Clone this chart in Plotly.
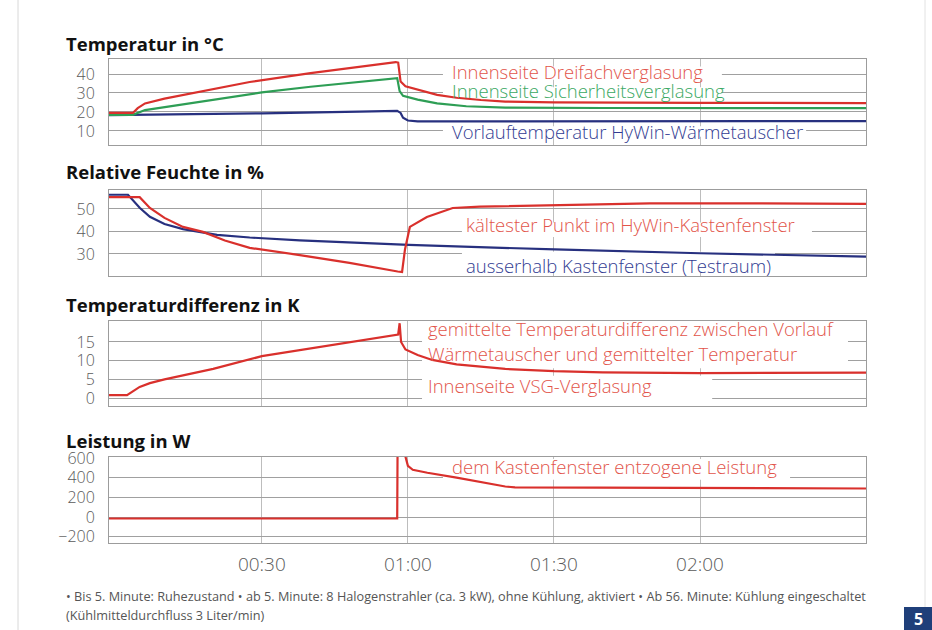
import plotly.graph_objects as go

# ---------------- data (time in minutes) ----------------
t_dreifach = [-1.4, 3.5, 4.5, 6, 10, 20, 27.5, 40, 50, 57.5, 58, 58.5, 59.5, 63, 66, 70, 75, 80, 90, 120, 154.1]
v_dreifach = [19.5, 19.5, 22, 24.5, 27, 32, 35.8, 40.5, 44, 46.3, 46, 36, 33.5, 31, 29, 27.5, 26.3, 25.5, 25, 24.8, 24.7]

t_sicher = [-1.4, 3.5, 6, 10, 20, 30, 40, 50, 57.8, 58.3, 59, 62, 66, 72, 80, 100, 154.1]
v_sicher = [18.5, 18.5, 21, 22.5, 26.5, 30.3, 33.3, 36, 37.8, 31, 28.5, 26.5, 24.5, 23, 22.3, 22.1, 22.0]

t_vorlauf = [-1.4, 10, 30, 50, 57.8, 58.5, 59, 60, 62, 154.1]
v_vorlauf = [18.3, 18.6, 19.3, 20.2, 20.6, 19.5, 17, 15.5, 15, 15.2]

t_kalt = [-1.4, 4.9, 7, 10, 13.8, 17.9, 22.4, 27.5, 37.8, 48, 57.9, 58.8, 59.4, 60.4, 63.9, 69.2, 74.8, 90.2, 109.7, 130, 154.1]
v_kalt = [55.2, 55.2, 50.4, 46, 42, 39.8, 36, 32.7, 29.5, 26, 22.2, 22, 32, 42, 46.4, 50.4, 51, 51.8, 52.5, 52.5, 52.2]

t_aussen = [-1.4, 2.5, 4.9, 7, 10, 13.8, 20.8, 27.5, 37.8, 60.2, 90.2, 120, 154.1]
v_aussen = [56.3, 56.3, 50.5, 46.5, 43.3, 41, 38.5, 37.3, 36, 34, 32, 30.3, 28.8]

t_diff = [-1.4, 2.3, 4.9, 7, 10, 20, 30, 40, 50, 57.5, 58, 58.3, 58.6, 59.5, 62, 65, 70, 80, 90, 100, 120, 154.1]
v_diff = [0.8, 0.8, 3, 4, 5, 7.8, 11.2, 13.2, 15.3, 16.8, 17, 20, 15, 13, 11.5, 10.2, 9, 7.8, 7.2, 6.9, 6.7, 6.8]

t_leist = [-1.4, 57.8, 57.9, 58.6, 59.3, 60, 61, 64, 70, 75, 80, 82, 100, 154.1]
v_leist = [-15, -15, 900, 900, 650, 520, 480, 450, 400, 355, 310, 302, 300, 290]

x_tickvals = [30, 60, 90, 120]
x_ticktext = ["00:30", "01:00", "01:30", "02:00"]

panel_titles = ["Temperatur in °C", "Relative Feuchte in %", "Temperaturdifferenz in K", "Leistung in W"]
y_ticks = [[10, 20, 30, 40], [30, 40, 50], [0, 5, 10, 15], [-200, 0, 200, 400, 600]]

footer1 = "• Bis 5. Minute: Ruhezustand • ab 5. Minute: 8 Halogenstrahler (ca. 3 kW), ohne Kühlung, aktiviert • Ab 56. Minute: Kühlung eingeschaltet"
footer2 = "(Kühlmitteldurchfluss 3 Liter/min)"

# ---------------- style ----------------
W, H = 932, 630
RED, GREEN, BLUE = "#d9302c", "#2e9e55", "#27307f"
RED_T, GREEN_T, BLUE_T = "#e2544a", "#3aa862", "#323c92"
FONT = "Open Sans"

def px(x):
    return x / W

def py(y):
    return 1 - y / H

x_dom = [px(109), px(866)]
y_doms = [[py(145), py(59)], [py(276), py(190)], [py(406), py(321)], [py(543), py(457)]]
y_ranges = [[2.6, 47.9], [20.2, 58.4], [-2.1, 20.6], [-264, 610]]
x_range = [-1.4, 154.1]

fig = go.Figure()

def add_line(t, v, color, k):
    sfx = "" if k == 1 else str(k)
    fig.add_trace(go.Scatter(x=t, y=v, mode="lines", line=dict(color=color, width=2.2),
                             xaxis="x" + sfx, yaxis="y" + sfx,
                             showlegend=False, hoverinfo="skip"))

add_line(t_vorlauf, v_vorlauf, BLUE, 1)
add_line(t_sicher, v_sicher, GREEN, 1)
add_line(t_dreifach, v_dreifach, RED, 1)
add_line(t_aussen, v_aussen, BLUE, 2)
add_line(t_kalt, v_kalt, RED, 2)
add_line(t_diff, v_diff, RED, 3)
add_line(t_leist, v_leist, RED, 4)

layout = dict(width=W, height=H, margin=dict(l=0, r=0, t=0, b=0, autoexpand=False),
              paper_bgcolor="white", plot_bgcolor="white", showlegend=False)

for i in range(4):
    k = i + 1
    sfx = "" if k == 1 else str(k)
    layout["xaxis" + sfx] = dict(domain=x_dom, range=x_range, anchor="y" + sfx,
                      tickvals=x_tickvals, ticktext=x_ticktext, showticklabels=(k == 4),
                      showgrid=True, gridcolor="#bdbdbd", gridwidth=1, zeroline=False,
                      showline=True, linecolor="#9c9c9c", linewidth=1, mirror=True, ticks="",
                      tickfont=dict(family=FONT, size=19, color="#5a5a5a", weight=300),
                      ticklabelstandoff=4, automargin=False)
    layout["yaxis" + sfx] = dict(domain=y_doms[i], range=y_ranges[i], anchor="x" + sfx,
                      tickvals=y_ticks[i], showgrid=True, gridcolor="#a0a0a0", gridwidth=1,
                      zeroline=False, showline=True, linecolor="#9c9c9c", linewidth=1, mirror=True,
                      ticks="", tickfont=dict(family=FONT, size=16, color="#5a5a5a", weight=300),
                      ticklabelstandoff=10, automargin=False)

shapes = []
# white boxes that interrupt the gridlines behind the labels
def box(k, x0, x1, y0, y1):
    sfx = "" if k == 1 else str(k)
    shapes.append(dict(type="rect", xref="x" + sfx, yref="y" + sfx, x0=x0, x1=x1, y0=y0, y1=y1,
                       fillcolor="white", line=dict(width=0), layer="between"))

box(1, 67.2, 124.5, 37, 44)
box(1, 67.2, 124.4, 27, 33)
box(1, 67.2, 141.8, 7, 12.5)
box(2, 71.1, 143.0, 37.5, 44)
box(2, 71.1, 135.4, 21.5, 31)
box(3, 62.9, 150.4, 8, 20.6)
box(3, 62.9, 122.5, -2.1, 6)
box(4, 67.2, 138.5, 380, 590)

# page frame and page number box
shapes.append(dict(type="line", xref="paper", yref="paper", x0=px(18), x1=px(18), y0=0, y1=1,
                   line=dict(color="#d8d8d8", width=1)))
shapes.append(dict(type="line", xref="paper", yref="paper", x0=px(925), x1=px(925), y0=0, y1=1,
                   line=dict(color="#e2e2e2", width=1)))
shapes.append(dict(type="rect", xref="paper", yref="paper", x0=px(904), x1=1, y0=0, y1=py(607),
                   fillcolor="#1f3f7a", line=dict(width=0)))
layout["shapes"] = shapes

ann = []
title_y = [44, 172, 304, 440]
for i, ttl in enumerate(panel_titles):
    ann.append(dict(text=ttl, xref="paper", yref="paper", x=px(64), y=py(title_y[i]),
                    xanchor="left", yanchor="middle", showarrow=False,
                    font=dict(family=FONT, size=18.5, color="#111111", weight="bold")))

def label(k, x, y, text, color):
    sfx = "" if k == 1 else str(k)
    ann.append(dict(text=text, xref="x" + sfx, yref="y" + sfx, x=x, y=y, xanchor="left",
                    yanchor="middle", showarrow=False,
                    font=dict(family=FONT, size=18.5, color=color, weight=300)))

label(1, 68.6, 41.1, "Innenseite Dreifachverglasung", RED_T)
label(1, 68.6, 31.1, "Innenseite Sicherheitsverglasung", GREEN_T)
label(1, 68.6, 9.5, "Vorlauftemperatur HyWin-Wärmetauscher", BLUE_T)
label(2, 71.5, 42.9, "kältester Punkt im HyWin-Kastenfenster", RED_T)
label(2, 71.5, 24.7, "ausserhalb Kastenfenster (Testraum)", BLUE_T)
label(3, 63.7, 18.6, "gemittelte Temperaturdifferenz zwischen Vorlauf", RED_T)
label(3, 63.7, 11.9, "Wärmetauscher und gemittelter Temperatur", RED_T)
label(3, 63.7, 3.4, "Innenseite VSG-Verglasung", RED_T)
label(4, 68.6, 518, "dem Kastenfenster entzogene Leistung", RED_T)

ann.append(dict(text=footer1, xref="paper", yref="paper", x=px(64), y=py(596), xanchor="left",
                yanchor="middle", showarrow=False, font=dict(family=FONT, size=12.7, color="#555555")))
ann.append(dict(text=footer2, xref="paper", yref="paper", x=px(64), y=py(615), xanchor="left",
                yanchor="middle", showarrow=False, font=dict(family=FONT, size=12.7, color="#555555")))
ann.append(dict(text="<b>5</b>", xref="paper", yref="paper", x=px(918), y=py(619), xanchor="center",
                yanchor="middle", showarrow=False, font=dict(family=FONT, size=16, color="white")))
layout["annotations"] = ann

fig.update_layout(**layout)
fig.write_html("out.html", config={"displayModeBar": False, "staticPlot": True},
               post_script="document.body.style.margin='0';document.body.style.padding='0';"
                           "document.body.style.overflow='hidden';")
